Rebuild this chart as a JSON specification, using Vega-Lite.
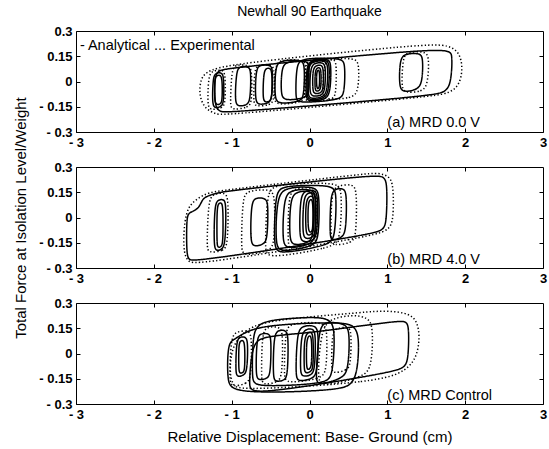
{
  "$schema": "https://vega.github.io/schema/vega-lite/v6.json",
  "background": "white",
  "padding": {"left": 12, "top": 4, "right": 4, "bottom": 4},
  "bounds": "flush",
  "spacing": 35,
  "config": {
    "font": "Liberation Sans",
    "view": {"stroke": "#000", "strokeWidth": 1},
    "axis": {
      "domain": false, "grid": false,
      "offset": -4, "tickSize": 4, "tickColor": "#000", "tickWidth": 1,
      "labelFlush": false, "labelFont": "Liberation Sans", "labelFontSize": 13,
      "labelFontWeight": "bold", "labelColor": "#000", "labelPadding": 4,
      "titleFont": "Liberation Sans", "titleFontSize": 15, "titleFontWeight": "normal", "titleColor": "#000"
    },
    "title": {"font": "Liberation Sans", "fontSize": 14, "fontWeight": "normal", "color": "#000"}
  },
  "datasets": {
    "na": [
      {"l":"a1","t":"Analytical","i":1,"x":-1.05,"y":-0.185},{"l":"a1","t":"Analytical","i":2,"x":1.6,"y":-0.085},{"l":"a1","t":"Analytical","i":3,"x":1.75,"y":-0.06},{"l":"a1","t":"Analytical","i":4,"x":1.82,"y":-0.01},{"l":"a1","t":"Analytical","i":5,"x":1.84,"y":0.17},{"l":"a1","t":"Analytical","i":6,"x":1.78,"y":0.205},{"l":"a1","t":"Analytical","i":7,"x":-1.05,"y":0.08},{"l":"a1","t":"Analytical","i":8,"x":-1.18,"y":0.065},{"l":"a1","t":"Analytical","i":9,"x":-1.22,"y":0.02},{"l":"a1","t":"Analytical","i":10,"x":-1.22,"y":-0.15},{"l":"a1","t":"Analytical","i":11,"x":-1.15,"y":-0.18},
      {"l":"a2","t":"Analytical","i":1,"x":1.2,"y":-0.065},{"l":"a2","t":"Analytical","i":2,"x":1.38,"y":-0.05},{"l":"a2","t":"Analytical","i":3,"x":1.45,"y":-0.01},{"l":"a2","t":"Analytical","i":4,"x":1.46,"y":0.14},{"l":"a2","t":"Analytical","i":5,"x":1.42,"y":0.17},{"l":"a2","t":"Analytical","i":6,"x":1.22,"y":0.165},{"l":"a2","t":"Analytical","i":7,"x":1.16,"y":0.13},{"l":"a2","t":"Analytical","i":8,"x":1.15,"y":-0.03},
      {"l":"a3a","t":"Analytical","i":1,"x":-0.02,"y":-0.12},{"l":"a3a","t":"Analytical","i":2,"x":0.2,"y":-0.11},{"l":"a3a","t":"Analytical","i":3,"x":0.27,"y":-0.07},{"l":"a3a","t":"Analytical","i":4,"x":0.28,"y":0.11},{"l":"a3a","t":"Analytical","i":5,"x":0.24,"y":0.135},{"l":"a3a","t":"Analytical","i":6,"x":0.02,"y":0.13},{"l":"a3a","t":"Analytical","i":7,"x":-0.04,"y":0.09},{"l":"a3a","t":"Analytical","i":8,"x":-0.05,"y":-0.09},
      {"l":"a3g","t":"Analytical","i":1,"x":-0.01,"y":-0.113},{"l":"a3g","t":"Analytical","i":2,"x":0.19,"y":-0.103},{"l":"a3g","t":"Analytical","i":3,"x":0.25,"y":-0.062},{"l":"a3g","t":"Analytical","i":4,"x":0.26,"y":0.105},{"l":"a3g","t":"Analytical","i":5,"x":0.22,"y":0.13},{"l":"a3g","t":"Analytical","i":6,"x":0.025,"y":0.125},{"l":"a3g","t":"Analytical","i":7,"x":-0.03,"y":0.085},{"l":"a3g","t":"Analytical","i":8,"x":-0.035,"y":-0.083},
      {"l":"a3b","t":"Analytical","i":1,"x":0.0,"y":-0.105},{"l":"a3b","t":"Analytical","i":2,"x":0.18,"y":-0.095},{"l":"a3b","t":"Analytical","i":3,"x":0.23,"y":-0.055},{"l":"a3b","t":"Analytical","i":4,"x":0.24,"y":0.1},{"l":"a3b","t":"Analytical","i":5,"x":0.2,"y":0.125},{"l":"a3b","t":"Analytical","i":6,"x":0.03,"y":0.12},{"l":"a3b","t":"Analytical","i":7,"x":-0.02,"y":0.08},{"l":"a3b","t":"Analytical","i":8,"x":-0.02,"y":-0.075},
      {"l":"a3c","t":"Analytical","i":1,"x":0.03,"y":-0.09},{"l":"a3c","t":"Analytical","i":2,"x":0.16,"y":-0.085},{"l":"a3c","t":"Analytical","i":3,"x":0.2,"y":-0.05},{"l":"a3c","t":"Analytical","i":4,"x":0.21,"y":0.09},{"l":"a3c","t":"Analytical","i":5,"x":0.17,"y":0.115},{"l":"a3c","t":"Analytical","i":6,"x":0.05,"y":0.11},{"l":"a3c","t":"Analytical","i":7,"x":0.01,"y":0.07},{"l":"a3c","t":"Analytical","i":8,"x":0.0,"y":-0.06},
      {"l":"a3d","t":"Analytical","i":1,"x":0.06,"y":-0.075},{"l":"a3d","t":"Analytical","i":2,"x":0.15,"y":-0.07},{"l":"a3d","t":"Analytical","i":3,"x":0.18,"y":-0.04},{"l":"a3d","t":"Analytical","i":4,"x":0.18,"y":0.08},{"l":"a3d","t":"Analytical","i":5,"x":0.15,"y":0.1},{"l":"a3d","t":"Analytical","i":6,"x":0.07,"y":0.095},{"l":"a3d","t":"Analytical","i":7,"x":0.04,"y":0.06},{"l":"a3d","t":"Analytical","i":8,"x":0.04,"y":-0.05},
      {"l":"a3e","t":"Analytical","i":1,"x":0.08,"y":-0.06},{"l":"a3e","t":"Analytical","i":2,"x":0.13,"y":-0.055},{"l":"a3e","t":"Analytical","i":3,"x":0.15,"y":-0.03},{"l":"a3e","t":"Analytical","i":4,"x":0.15,"y":0.065},{"l":"a3e","t":"Analytical","i":5,"x":0.13,"y":0.085},{"l":"a3e","t":"Analytical","i":6,"x":0.09,"y":0.08},{"l":"a3e","t":"Analytical","i":7,"x":0.07,"y":0.05},{"l":"a3e","t":"Analytical","i":8,"x":0.07,"y":-0.035},
      {"l":"a3f","t":"Analytical","i":1,"x":0.1,"y":-0.045},{"l":"a3f","t":"Analytical","i":2,"x":0.12,"y":-0.04},{"l":"a3f","t":"Analytical","i":3,"x":0.13,"y":-0.02},{"l":"a3f","t":"Analytical","i":4,"x":0.13,"y":0.05},{"l":"a3f","t":"Analytical","i":5,"x":0.12,"y":0.07},{"l":"a3f","t":"Analytical","i":6,"x":0.1,"y":0.065},{"l":"a3f","t":"Analytical","i":7,"x":0.09,"y":0.04},{"l":"a3f","t":"Analytical","i":8,"x":0.09,"y":-0.02},
      {"l":"a8","t":"Analytical","i":1,"x":-0.15,"y":-0.13},{"l":"a8","t":"Analytical","i":2,"x":0.38,"y":-0.11},{"l":"a8","t":"Analytical","i":3,"x":0.45,"y":-0.08},{"l":"a8","t":"Analytical","i":4,"x":0.46,"y":0.11},{"l":"a8","t":"Analytical","i":5,"x":0.41,"y":0.14},{"l":"a8","t":"Analytical","i":6,"x":-0.1,"y":0.14},{"l":"a8","t":"Analytical","i":7,"x":-0.17,"y":0.1},{"l":"a8","t":"Analytical","i":8,"x":-0.18,"y":-0.1},
      {"l":"a4","t":"Analytical","i":1,"x":-0.4,"y":-0.135},{"l":"a4","t":"Analytical","i":2,"x":-0.12,"y":-0.12},{"l":"a4","t":"Analytical","i":3,"x":-0.07,"y":-0.09},{"l":"a4","t":"Analytical","i":4,"x":-0.06,"y":0.1},{"l":"a4","t":"Analytical","i":5,"x":-0.1,"y":0.13},{"l":"a4","t":"Analytical","i":6,"x":-0.38,"y":0.125},{"l":"a4","t":"Analytical","i":7,"x":-0.44,"y":0.09},{"l":"a4","t":"Analytical","i":8,"x":-0.45,"y":-0.1},
      {"l":"a4b","t":"Analytical","i":1,"x":-0.32,"y":-0.115},{"l":"a4b","t":"Analytical","i":2,"x":-0.06,"y":-0.1},{"l":"a4b","t":"Analytical","i":3,"x":-0.01,"y":-0.07},{"l":"a4b","t":"Analytical","i":4,"x":0.0,"y":0.1},{"l":"a4b","t":"Analytical","i":5,"x":-0.04,"y":0.125},{"l":"a4b","t":"Analytical","i":6,"x":-0.3,"y":0.12},{"l":"a4b","t":"Analytical","i":7,"x":-0.36,"y":0.08},{"l":"a4b","t":"Analytical","i":8,"x":-0.37,"y":-0.08},
      {"l":"a5","t":"Analytical","i":1,"x":-0.66,"y":-0.14},{"l":"a5","t":"Analytical","i":2,"x":-0.52,"y":-0.13},{"l":"a5","t":"Analytical","i":3,"x":-0.48,"y":-0.1},{"l":"a5","t":"Analytical","i":4,"x":-0.47,"y":0.07},{"l":"a5","t":"Analytical","i":5,"x":-0.5,"y":0.1},{"l":"a5","t":"Analytical","i":6,"x":-0.64,"y":0.1},{"l":"a5","t":"Analytical","i":7,"x":-0.69,"y":0.07},{"l":"a5","t":"Analytical","i":8,"x":-0.7,"y":-0.11},
      {"l":"a5b","t":"Analytical","i":1,"x":-0.58,"y":-0.125},{"l":"a5b","t":"Analytical","i":2,"x":-0.51,"y":-0.12},{"l":"a5b","t":"Analytical","i":3,"x":-0.48,"y":-0.09},{"l":"a5b","t":"Analytical","i":4,"x":-0.48,"y":0.05},{"l":"a5b","t":"Analytical","i":5,"x":-0.5,"y":0.08},{"l":"a5b","t":"Analytical","i":6,"x":-0.56,"y":0.08},{"l":"a5b","t":"Analytical","i":7,"x":-0.59,"y":0.05},{"l":"a5b","t":"Analytical","i":8,"x":-0.6,"y":-0.09},
      {"l":"a6","t":"Analytical","i":1,"x":-0.92,"y":-0.15},{"l":"a6","t":"Analytical","i":2,"x":-0.8,"y":-0.14},{"l":"a6","t":"Analytical","i":3,"x":-0.76,"y":-0.11},{"l":"a6","t":"Analytical","i":4,"x":-0.75,"y":0.06},{"l":"a6","t":"Analytical","i":5,"x":-0.78,"y":0.09},{"l":"a6","t":"Analytical","i":6,"x":-0.9,"y":0.09},{"l":"a6","t":"Analytical","i":7,"x":-0.94,"y":0.06},{"l":"a6","t":"Analytical","i":8,"x":-0.96,"y":-0.12},
      {"l":"a7","t":"Analytical","i":1,"x":-1.22,"y":-0.16},{"l":"a7","t":"Analytical","i":2,"x":-1.13,"y":-0.15},{"l":"a7","t":"Analytical","i":3,"x":-1.1,"y":-0.12},{"l":"a7","t":"Analytical","i":4,"x":-1.1,"y":0.03},{"l":"a7","t":"Analytical","i":5,"x":-1.13,"y":0.055},{"l":"a7","t":"Analytical","i":6,"x":-1.21,"y":0.05},{"l":"a7","t":"Analytical","i":7,"x":-1.24,"y":0.02},{"l":"a7","t":"Analytical","i":8,"x":-1.25,"y":-0.13},
      {"l":"a7b","t":"Analytical","i":1,"x":-1.2,"y":-0.14},{"l":"a7b","t":"Analytical","i":2,"x":-1.14,"y":-0.135},{"l":"a7b","t":"Analytical","i":3,"x":-1.12,"y":-0.11},{"l":"a7b","t":"Analytical","i":4,"x":-1.12,"y":0.02},{"l":"a7b","t":"Analytical","i":5,"x":-1.15,"y":0.04},{"l":"a7b","t":"Analytical","i":6,"x":-1.2,"y":0.035},{"l":"a7b","t":"Analytical","i":7,"x":-1.22,"y":0.01},{"l":"a7b","t":"Analytical","i":8,"x":-1.22,"y":-0.11},
      {"l":"ae1","t":"Experimental","i":1,"x":-1.1,"y":-0.2},{"l":"ae1","t":"Experimental","i":2,"x":1.55,"y":-0.09},{"l":"ae1","t":"Experimental","i":3,"x":1.8,"y":-0.07},{"l":"ae1","t":"Experimental","i":4,"x":1.93,"y":-0.02},{"l":"ae1","t":"Experimental","i":5,"x":1.97,"y":0.08},{"l":"ae1","t":"Experimental","i":6,"x":1.93,"y":0.17},{"l":"ae1","t":"Experimental","i":7,"x":1.8,"y":0.215},{"l":"ae1","t":"Experimental","i":8,"x":1.5,"y":0.225},{"l":"ae1","t":"Experimental","i":9,"x":-0.9,"y":0.11},{"l":"ae1","t":"Experimental","i":10,"x":-1.3,"y":0.07},{"l":"ae1","t":"Experimental","i":11,"x":-1.4,"y":0.02},{"l":"ae1","t":"Experimental","i":12,"x":-1.42,"y":-0.08},{"l":"ae1","t":"Experimental","i":13,"x":-1.35,"y":-0.16},{"l":"ae1","t":"Experimental","i":14,"x":-1.2,"y":-0.195},
      {"l":"ae2","t":"Experimental","i":1,"x":1.22,"y":-0.07},{"l":"ae2","t":"Experimental","i":2,"x":1.45,"y":-0.06},{"l":"ae2","t":"Experimental","i":3,"x":1.52,"y":-0.02},{"l":"ae2","t":"Experimental","i":4,"x":1.54,"y":0.15},{"l":"ae2","t":"Experimental","i":5,"x":1.48,"y":0.18},{"l":"ae2","t":"Experimental","i":6,"x":1.25,"y":0.175},{"l":"ae2","t":"Experimental","i":7,"x":1.2,"y":0.14},{"l":"ae2","t":"Experimental","i":8,"x":1.18,"y":-0.03},
      {"l":"ae3","t":"Experimental","i":1,"x":0.2,"y":-0.11},{"l":"ae3","t":"Experimental","i":2,"x":0.55,"y":-0.1},{"l":"ae3","t":"Experimental","i":3,"x":0.63,"y":-0.06},{"l":"ae3","t":"Experimental","i":4,"x":0.64,"y":0.11},{"l":"ae3","t":"Experimental","i":5,"x":0.58,"y":0.14},{"l":"ae3","t":"Experimental","i":6,"x":0.25,"y":0.135},{"l":"ae3","t":"Experimental","i":7,"x":0.18,"y":0.1},{"l":"ae3","t":"Experimental","i":8,"x":0.17,"y":-0.08},
      {"l":"ae4","t":"Experimental","i":1,"x":-0.05,"y":-0.125},{"l":"ae4","t":"Experimental","i":2,"x":0.3,"y":-0.11},{"l":"ae4","t":"Experimental","i":3,"x":0.34,"y":-0.08},{"l":"ae4","t":"Experimental","i":4,"x":0.35,"y":0.11},{"l":"ae4","t":"Experimental","i":5,"x":0.31,"y":0.14},{"l":"ae4","t":"Experimental","i":6,"x":0.0,"y":0.135},{"l":"ae4","t":"Experimental","i":7,"x":-0.06,"y":0.1},{"l":"ae4","t":"Experimental","i":8,"x":-0.07,"y":-0.09},
      {"l":"ae5","t":"Experimental","i":1,"x":-0.42,"y":-0.14},{"l":"ae5","t":"Experimental","i":2,"x":-0.1,"y":-0.125},{"l":"ae5","t":"Experimental","i":3,"x":-0.05,"y":-0.09},{"l":"ae5","t":"Experimental","i":4,"x":-0.04,"y":0.1},{"l":"ae5","t":"Experimental","i":5,"x":-0.08,"y":0.13},{"l":"ae5","t":"Experimental","i":6,"x":-0.38,"y":0.13},{"l":"ae5","t":"Experimental","i":7,"x":-0.44,"y":0.1},{"l":"ae5","t":"Experimental","i":8,"x":-0.46,"y":-0.11},
      {"l":"ae6","t":"Experimental","i":1,"x":-0.7,"y":-0.15},{"l":"ae6","t":"Experimental","i":2,"x":-0.5,"y":-0.14},{"l":"ae6","t":"Experimental","i":3,"x":-0.45,"y":-0.11},{"l":"ae6","t":"Experimental","i":4,"x":-0.45,"y":0.07},{"l":"ae6","t":"Experimental","i":5,"x":-0.48,"y":0.1},{"l":"ae6","t":"Experimental","i":6,"x":-0.66,"y":0.1},{"l":"ae6","t":"Experimental","i":7,"x":-0.71,"y":0.07},{"l":"ae6","t":"Experimental","i":8,"x":-0.72,"y":-0.12},
      {"l":"ae7","t":"Experimental","i":1,"x":-1.0,"y":-0.17},{"l":"ae7","t":"Experimental","i":2,"x":-0.78,"y":-0.155},{"l":"ae7","t":"Experimental","i":3,"x":-0.74,"y":-0.12},{"l":"ae7","t":"Experimental","i":4,"x":-0.74,"y":0.07},{"l":"ae7","t":"Experimental","i":5,"x":-0.78,"y":0.1},{"l":"ae7","t":"Experimental","i":6,"x":-0.95,"y":0.1},{"l":"ae7","t":"Experimental","i":7,"x":-1.0,"y":0.07},{"l":"ae7","t":"Experimental","i":8,"x":-1.02,"y":-0.14},
      {"l":"ae8","t":"Experimental","i":1,"x":-1.28,"y":-0.17},{"l":"ae8","t":"Experimental","i":2,"x":-1.12,"y":-0.16},{"l":"ae8","t":"Experimental","i":3,"x":-1.08,"y":-0.13},{"l":"ae8","t":"Experimental","i":4,"x":-1.08,"y":0.05},{"l":"ae8","t":"Experimental","i":5,"x":-1.12,"y":0.07},{"l":"ae8","t":"Experimental","i":6,"x":-1.25,"y":0.065},{"l":"ae8","t":"Experimental","i":7,"x":-1.3,"y":0.03},{"l":"ae8","t":"Experimental","i":8,"x":-1.31,"y":-0.14}
    ],
    "nb": [
      {"l":"b1","t":"Analytical","i":1,"x":-1.48,"y":-0.263},{"l":"b1","t":"Analytical","i":2,"x":0.82,"y":-0.1},{"l":"b1","t":"Analytical","i":3,"x":0.95,"y":-0.07},{"l":"b1","t":"Analytical","i":4,"x":0.99,"y":-0.03},{"l":"b1","t":"Analytical","i":5,"x":1.0,"y":0.2},{"l":"b1","t":"Analytical","i":6,"x":0.96,"y":0.24},{"l":"b1","t":"Analytical","i":7,"x":0.86,"y":0.256},{"l":"b1","t":"Analytical","i":8,"x":-1.0,"y":0.16},{"l":"b1","t":"Analytical","i":9,"x":-1.16,"y":0.149},{"l":"b1","t":"Analytical","i":10,"x":-1.3,"y":0.13},{"l":"b1","t":"Analytical","i":11,"x":-1.38,"y":0.11},{"l":"b1","t":"Analytical","i":12,"x":-1.42,"y":0.05},{"l":"b1","t":"Analytical","i":13,"x":-1.55,"y":0.03},{"l":"b1","t":"Analytical","i":14,"x":-1.58,"y":0.0},{"l":"b1","t":"Analytical","i":15,"x":-1.58,"y":-0.22},{"l":"b1","t":"Analytical","i":16,"x":-1.55,"y":-0.25},
      {"l":"b2","t":"Analytical","i":1,"x":-1.2,"y":-0.2},{"l":"b2","t":"Analytical","i":2,"x":-1.12,"y":-0.19},{"l":"b2","t":"Analytical","i":3,"x":-1.08,"y":-0.15},{"l":"b2","t":"Analytical","i":4,"x":-1.07,"y":0.08},{"l":"b2","t":"Analytical","i":5,"x":-1.1,"y":0.11},{"l":"b2","t":"Analytical","i":6,"x":-1.18,"y":0.105},{"l":"b2","t":"Analytical","i":7,"x":-1.22,"y":0.07},{"l":"b2","t":"Analytical","i":8,"x":-1.23,"y":-0.17},
      {"l":"b2b","t":"Analytical","i":1,"x":-1.18,"y":-0.18},{"l":"b2b","t":"Analytical","i":2,"x":-1.13,"y":-0.175},{"l":"b2b","t":"Analytical","i":3,"x":-1.11,"y":-0.14},{"l":"b2b","t":"Analytical","i":4,"x":-1.11,"y":0.06},{"l":"b2b","t":"Analytical","i":5,"x":-1.13,"y":0.09},{"l":"b2b","t":"Analytical","i":6,"x":-1.17,"y":0.085},{"l":"b2b","t":"Analytical","i":7,"x":-1.19,"y":0.05},{"l":"b2b","t":"Analytical","i":8,"x":-1.19,"y":-0.15},
      {"l":"b3","t":"Analytical","i":1,"x":-0.72,"y":-0.175},{"l":"b3","t":"Analytical","i":2,"x":-0.58,"y":-0.16},{"l":"b3","t":"Analytical","i":3,"x":-0.54,"y":-0.12},{"l":"b3","t":"Analytical","i":4,"x":-0.53,"y":0.08},{"l":"b3","t":"Analytical","i":5,"x":-0.56,"y":0.115},{"l":"b3","t":"Analytical","i":6,"x":-0.7,"y":0.12},{"l":"b3","t":"Analytical","i":7,"x":-0.75,"y":0.08},{"l":"b3","t":"Analytical","i":8,"x":-0.76,"y":-0.14},
      {"l":"b7","t":"Analytical","i":1,"x":-0.4,"y":-0.22},{"l":"b7","t":"Analytical","i":2,"x":0.25,"y":-0.165},{"l":"b7","t":"Analytical","i":3,"x":0.33,"y":-0.12},{"l":"b7","t":"Analytical","i":4,"x":0.35,"y":0.15},{"l":"b7","t":"Analytical","i":5,"x":0.3,"y":0.195},{"l":"b7","t":"Analytical","i":6,"x":-0.35,"y":0.19},{"l":"b7","t":"Analytical","i":7,"x":-0.44,"y":0.15},{"l":"b7","t":"Analytical","i":8,"x":-0.46,"y":-0.18},
      {"l":"b4a","t":"Analytical","i":1,"x":-0.38,"y":-0.21},{"l":"b4a","t":"Analytical","i":2,"x":0.05,"y":-0.17},{"l":"b4a","t":"Analytical","i":3,"x":0.12,"y":-0.13},{"l":"b4a","t":"Analytical","i":4,"x":0.13,"y":0.14},{"l":"b4a","t":"Analytical","i":5,"x":0.08,"y":0.185},{"l":"b4a","t":"Analytical","i":6,"x":-0.3,"y":0.18},{"l":"b4a","t":"Analytical","i":7,"x":-0.42,"y":0.13},{"l":"b4a","t":"Analytical","i":8,"x":-0.44,"y":-0.16},
      {"l":"b4b","t":"Analytical","i":1,"x":-0.3,"y":-0.19},{"l":"b4b","t":"Analytical","i":2,"x":0.02,"y":-0.16},{"l":"b4b","t":"Analytical","i":3,"x":0.08,"y":-0.12},{"l":"b4b","t":"Analytical","i":4,"x":0.09,"y":0.13},{"l":"b4b","t":"Analytical","i":5,"x":0.04,"y":0.17},{"l":"b4b","t":"Analytical","i":6,"x":-0.24,"y":0.165},{"l":"b4b","t":"Analytical","i":7,"x":-0.33,"y":0.12},{"l":"b4b","t":"Analytical","i":8,"x":-0.35,"y":-0.14},
      {"l":"b4c","t":"Analytical","i":1,"x":-0.22,"y":-0.17},{"l":"b4c","t":"Analytical","i":2,"x":0.0,"y":-0.15},{"l":"b4c","t":"Analytical","i":3,"x":0.05,"y":-0.11},{"l":"b4c","t":"Analytical","i":4,"x":0.06,"y":0.12},{"l":"b4c","t":"Analytical","i":5,"x":0.02,"y":0.16},{"l":"b4c","t":"Analytical","i":6,"x":-0.17,"y":0.155},{"l":"b4c","t":"Analytical","i":7,"x":-0.25,"y":0.11},{"l":"b4c","t":"Analytical","i":8,"x":-0.26,"y":-0.12},
      {"l":"b5a","t":"Analytical","i":1,"x":-0.1,"y":-0.15},{"l":"b5a","t":"Analytical","i":2,"x":0.05,"y":-0.14},{"l":"b5a","t":"Analytical","i":3,"x":0.1,"y":-0.1},{"l":"b5a","t":"Analytical","i":4,"x":0.11,"y":0.13},{"l":"b5a","t":"Analytical","i":5,"x":0.07,"y":0.165},{"l":"b5a","t":"Analytical","i":6,"x":-0.06,"y":0.16},{"l":"b5a","t":"Analytical","i":7,"x":-0.12,"y":0.12},{"l":"b5a","t":"Analytical","i":8,"x":-0.13,"y":-0.1},
      {"l":"b5b","t":"Analytical","i":1,"x":-0.06,"y":-0.13},{"l":"b5b","t":"Analytical","i":2,"x":0.04,"y":-0.12},{"l":"b5b","t":"Analytical","i":3,"x":0.08,"y":-0.09},{"l":"b5b","t":"Analytical","i":4,"x":0.08,"y":0.12},{"l":"b5b","t":"Analytical","i":5,"x":0.05,"y":0.15},{"l":"b5b","t":"Analytical","i":6,"x":-0.03,"y":0.145},{"l":"b5b","t":"Analytical","i":7,"x":-0.08,"y":0.11},{"l":"b5b","t":"Analytical","i":8,"x":-0.09,"y":-0.09},
      {"l":"b5c","t":"Analytical","i":1,"x":-0.03,"y":-0.11},{"l":"b5c","t":"Analytical","i":2,"x":0.03,"y":-0.1},{"l":"b5c","t":"Analytical","i":3,"x":0.06,"y":-0.07},{"l":"b5c","t":"Analytical","i":4,"x":0.06,"y":0.1},{"l":"b5c","t":"Analytical","i":5,"x":0.04,"y":0.13},{"l":"b5c","t":"Analytical","i":6,"x":-0.01,"y":0.125},{"l":"b5c","t":"Analytical","i":7,"x":-0.05,"y":0.09},{"l":"b5c","t":"Analytical","i":8,"x":-0.05,"y":-0.07},
      {"l":"b5d","t":"Analytical","i":1,"x":0.0,"y":-0.09},{"l":"b5d","t":"Analytical","i":2,"x":0.03,"y":-0.085},{"l":"b5d","t":"Analytical","i":3,"x":0.045,"y":-0.06},{"l":"b5d","t":"Analytical","i":4,"x":0.045,"y":0.08},{"l":"b5d","t":"Analytical","i":5,"x":0.03,"y":0.11},{"l":"b5d","t":"Analytical","i":6,"x":0.0,"y":0.105},{"l":"b5d","t":"Analytical","i":7,"x":-0.02,"y":0.07},{"l":"b5d","t":"Analytical","i":8,"x":-0.02,"y":-0.06},
      {"l":"b6","t":"Analytical","i":1,"x":0.28,"y":-0.14},{"l":"b6","t":"Analytical","i":2,"x":0.42,"y":-0.12},{"l":"b6","t":"Analytical","i":3,"x":0.47,"y":-0.08},{"l":"b6","t":"Analytical","i":4,"x":0.48,"y":0.14},{"l":"b6","t":"Analytical","i":5,"x":0.44,"y":0.175},{"l":"b6","t":"Analytical","i":6,"x":0.32,"y":0.17},{"l":"b6","t":"Analytical","i":7,"x":0.27,"y":0.13},{"l":"b6","t":"Analytical","i":8,"x":0.26,"y":-0.1},
      {"l":"be1","t":"Experimental","i":1,"x":-1.45,"y":-0.28},{"l":"be1","t":"Experimental","i":2,"x":0.85,"y":-0.11},{"l":"be1","t":"Experimental","i":3,"x":1.02,"y":-0.07},{"l":"be1","t":"Experimental","i":4,"x":1.08,"y":-0.02},{"l":"be1","t":"Experimental","i":5,"x":1.08,"y":0.2},{"l":"be1","t":"Experimental","i":6,"x":1.02,"y":0.245},{"l":"be1","t":"Experimental","i":7,"x":0.9,"y":0.265},{"l":"be1","t":"Experimental","i":8,"x":0.7,"y":0.26},{"l":"be1","t":"Experimental","i":9,"x":-1.05,"y":0.165},{"l":"be1","t":"Experimental","i":10,"x":-1.3,"y":0.15},{"l":"be1","t":"Experimental","i":11,"x":-1.45,"y":0.11},{"l":"be1","t":"Experimental","i":12,"x":-1.6,"y":0.05},{"l":"be1","t":"Experimental","i":13,"x":-1.63,"y":-0.2},{"l":"be1","t":"Experimental","i":14,"x":-1.56,"y":-0.265},
      {"l":"be2","t":"Experimental","i":1,"x":-1.3,"y":-0.21},{"l":"be2","t":"Experimental","i":2,"x":-1.1,"y":-0.2},{"l":"be2","t":"Experimental","i":3,"x":-1.05,"y":-0.16},{"l":"be2","t":"Experimental","i":4,"x":-1.04,"y":0.11},{"l":"be2","t":"Experimental","i":5,"x":-1.08,"y":0.15},{"l":"be2","t":"Experimental","i":6,"x":-1.24,"y":0.14},{"l":"be2","t":"Experimental","i":7,"x":-1.3,"y":0.1},{"l":"be2","t":"Experimental","i":8,"x":-1.32,"y":-0.18},
      {"l":"be3","t":"Experimental","i":1,"x":-0.85,"y":-0.23},{"l":"be3","t":"Experimental","i":2,"x":-0.5,"y":-0.2},{"l":"be3","t":"Experimental","i":3,"x":-0.45,"y":-0.15},{"l":"be3","t":"Experimental","i":4,"x":-0.44,"y":0.13},{"l":"be3","t":"Experimental","i":5,"x":-0.5,"y":0.17},{"l":"be3","t":"Experimental","i":6,"x":-0.8,"y":0.16},{"l":"be3","t":"Experimental","i":7,"x":-0.86,"y":0.12},{"l":"be3","t":"Experimental","i":8,"x":-0.88,"y":-0.19},
      {"l":"be4","t":"Experimental","i":1,"x":-0.55,"y":-0.245},{"l":"be4","t":"Experimental","i":2,"x":0.3,"y":-0.18},{"l":"be4","t":"Experimental","i":3,"x":0.4,"y":-0.13},{"l":"be4","t":"Experimental","i":4,"x":0.42,"y":0.17},{"l":"be4","t":"Experimental","i":5,"x":0.35,"y":0.21},{"l":"be4","t":"Experimental","i":6,"x":-0.45,"y":0.2},{"l":"be4","t":"Experimental","i":7,"x":-0.55,"y":0.15},{"l":"be4","t":"Experimental","i":8,"x":-0.57,"y":-0.2},
      {"l":"be5","t":"Experimental","i":1,"x":-0.25,"y":-0.2},{"l":"be5","t":"Experimental","i":2,"x":0.05,"y":-0.17},{"l":"be5","t":"Experimental","i":3,"x":0.1,"y":-0.12},{"l":"be5","t":"Experimental","i":4,"x":0.1,"y":0.15},{"l":"be5","t":"Experimental","i":5,"x":0.05,"y":0.18},{"l":"be5","t":"Experimental","i":6,"x":-0.2,"y":0.175},{"l":"be5","t":"Experimental","i":7,"x":-0.27,"y":0.13},{"l":"be5","t":"Experimental","i":8,"x":-0.28,"y":-0.16},
      {"l":"be6","t":"Experimental","i":1,"x":0.3,"y":-0.17},{"l":"be6","t":"Experimental","i":2,"x":0.55,"y":-0.15},{"l":"be6","t":"Experimental","i":3,"x":0.6,"y":-0.11},{"l":"be6","t":"Experimental","i":4,"x":0.61,"y":0.16},{"l":"be6","t":"Experimental","i":5,"x":0.56,"y":0.2},{"l":"be6","t":"Experimental","i":6,"x":0.35,"y":0.19},{"l":"be6","t":"Experimental","i":7,"x":0.28,"y":0.15},{"l":"be6","t":"Experimental","i":8,"x":0.27,"y":-0.13}
    ],
    "nc": [
      {"l":"c1","t":"Analytical","i":1,"x":-0.75,"y":-0.25},{"l":"c1","t":"Analytical","i":2,"x":1.1,"y":-0.11},{"l":"c1","t":"Analytical","i":3,"x":1.22,"y":-0.08},{"l":"c1","t":"Analytical","i":4,"x":1.27,"y":-0.04},{"l":"c1","t":"Analytical","i":5,"x":1.28,"y":0.16},{"l":"c1","t":"Analytical","i":6,"x":1.24,"y":0.19},{"l":"c1","t":"Analytical","i":7,"x":1.15,"y":0.195},{"l":"c1","t":"Analytical","i":8,"x":0.2,"y":0.135},{"l":"c1","t":"Analytical","i":9,"x":-0.1,"y":0.12},{"l":"c1","t":"Analytical","i":10,"x":-0.6,"y":0.1},{"l":"c1","t":"Analytical","i":11,"x":-0.74,"y":0.06},{"l":"c1","t":"Analytical","i":12,"x":-0.78,"y":-0.2},
      {"l":"c2","t":"Analytical","i":1,"x":-0.98,"y":-0.24},{"l":"c2","t":"Analytical","i":2,"x":0.4,"y":-0.22},{"l":"c2","t":"Analytical","i":3,"x":0.55,"y":-0.18},{"l":"c2","t":"Analytical","i":4,"x":0.62,"y":-0.1},{"l":"c2","t":"Analytical","i":5,"x":0.64,"y":0.1},{"l":"c2","t":"Analytical","i":6,"x":0.58,"y":0.16},{"l":"c2","t":"Analytical","i":7,"x":0.45,"y":0.19},{"l":"c2","t":"Analytical","i":8,"x":-0.6,"y":0.17},{"l":"c2","t":"Analytical","i":9,"x":-0.85,"y":0.12},{"l":"c2","t":"Analytical","i":10,"x":-0.98,"y":0.08},{"l":"c2","t":"Analytical","i":11,"x":-1.05,"y":0.06},{"l":"c2","t":"Analytical","i":12,"x":-1.06,"y":-0.17},
      {"l":"c3","t":"Analytical","i":1,"x":-0.93,"y":-0.14},{"l":"c3","t":"Analytical","i":2,"x":-0.84,"y":-0.13},{"l":"c3","t":"Analytical","i":3,"x":-0.8,"y":-0.1},{"l":"c3","t":"Analytical","i":4,"x":-0.79,"y":0.07},{"l":"c3","t":"Analytical","i":5,"x":-0.82,"y":0.1},{"l":"c3","t":"Analytical","i":6,"x":-0.9,"y":0.1},{"l":"c3","t":"Analytical","i":7,"x":-0.94,"y":0.07},{"l":"c3","t":"Analytical","i":8,"x":-0.95,"y":-0.11},
      {"l":"c3b","t":"Analytical","i":1,"x":-0.9,"y":-0.12},{"l":"c3b","t":"Analytical","i":2,"x":-0.85,"y":-0.115},{"l":"c3b","t":"Analytical","i":3,"x":-0.83,"y":-0.09},{"l":"c3b","t":"Analytical","i":4,"x":-0.83,"y":0.05},{"l":"c3b","t":"Analytical","i":5,"x":-0.85,"y":0.08},{"l":"c3b","t":"Analytical","i":6,"x":-0.89,"y":0.075},{"l":"c3b","t":"Analytical","i":7,"x":-0.91,"y":0.05},{"l":"c3b","t":"Analytical","i":8,"x":-0.91,"y":-0.09},
      {"l":"c4","t":"Analytical","i":1,"x":-0.66,"y":-0.16},{"l":"c4","t":"Analytical","i":2,"x":-0.54,"y":-0.15},{"l":"c4","t":"Analytical","i":3,"x":-0.5,"y":-0.12},{"l":"c4","t":"Analytical","i":4,"x":-0.49,"y":0.09},{"l":"c4","t":"Analytical","i":5,"x":-0.52,"y":0.12},{"l":"c4","t":"Analytical","i":6,"x":-0.63,"y":0.12},{"l":"c4","t":"Analytical","i":7,"x":-0.68,"y":0.09},{"l":"c4","t":"Analytical","i":8,"x":-0.69,"y":-0.13},
      {"l":"c5","t":"Analytical","i":1,"x":-0.44,"y":-0.17},{"l":"c5","t":"Analytical","i":2,"x":-0.32,"y":-0.16},{"l":"c5","t":"Analytical","i":3,"x":-0.28,"y":-0.13},{"l":"c5","t":"Analytical","i":4,"x":-0.27,"y":0.1},{"l":"c5","t":"Analytical","i":5,"x":-0.3,"y":0.14},{"l":"c5","t":"Analytical","i":6,"x":-0.41,"y":0.14},{"l":"c5","t":"Analytical","i":7,"x":-0.46,"y":0.1},{"l":"c5","t":"Analytical","i":8,"x":-0.47,"y":-0.14},
      {"l":"c7","t":"Analytical","i":1,"x":-0.7,"y":-0.2},{"l":"c7","t":"Analytical","i":2,"x":0.2,"y":-0.18},{"l":"c7","t":"Analytical","i":3,"x":0.3,"y":-0.14},{"l":"c7","t":"Analytical","i":4,"x":0.33,"y":0.14},{"l":"c7","t":"Analytical","i":5,"x":0.27,"y":0.2},{"l":"c7","t":"Analytical","i":6,"x":0.1,"y":0.22},{"l":"c7","t":"Analytical","i":7,"x":-0.55,"y":0.2},{"l":"c7","t":"Analytical","i":8,"x":-0.68,"y":0.16},{"l":"c7","t":"Analytical","i":9,"x":-0.73,"y":0.1},{"l":"c7","t":"Analytical","i":10,"x":-0.74,"y":-0.16},
      {"l":"c8","t":"Analytical","i":1,"x":0.1,"y":-0.19},{"l":"c8","t":"Analytical","i":2,"x":0.42,"y":-0.15},{"l":"c8","t":"Analytical","i":3,"x":0.5,"y":-0.1},{"l":"c8","t":"Analytical","i":4,"x":0.52,"y":0.13},{"l":"c8","t":"Analytical","i":5,"x":0.46,"y":0.18},{"l":"c8","t":"Analytical","i":6,"x":0.2,"y":0.19},{"l":"c8","t":"Analytical","i":7,"x":0.12,"y":0.15},{"l":"c8","t":"Analytical","i":8,"x":0.08,"y":-0.15},
      {"l":"c6a","t":"Analytical","i":1,"x":-0.15,"y":-0.17},{"l":"c6a","t":"Analytical","i":2,"x":0.05,"y":-0.15},{"l":"c6a","t":"Analytical","i":3,"x":0.1,"y":-0.11},{"l":"c6a","t":"Analytical","i":4,"x":0.12,"y":0.12},{"l":"c6a","t":"Analytical","i":5,"x":0.08,"y":0.17},{"l":"c6a","t":"Analytical","i":6,"x":-0.1,"y":0.165},{"l":"c6a","t":"Analytical","i":7,"x":-0.16,"y":0.12},{"l":"c6a","t":"Analytical","i":8,"x":-0.18,"y":-0.13},
      {"l":"c6b","t":"Analytical","i":1,"x":-0.1,"y":-0.14},{"l":"c6b","t":"Analytical","i":2,"x":0.03,"y":-0.13},{"l":"c6b","t":"Analytical","i":3,"x":0.07,"y":-0.09},{"l":"c6b","t":"Analytical","i":4,"x":0.08,"y":0.11},{"l":"c6b","t":"Analytical","i":5,"x":0.05,"y":0.15},{"l":"c6b","t":"Analytical","i":6,"x":-0.06,"y":0.145},{"l":"c6b","t":"Analytical","i":7,"x":-0.11,"y":0.1},{"l":"c6b","t":"Analytical","i":8,"x":-0.12,"y":-0.1},
      {"l":"c6c","t":"Analytical","i":1,"x":-0.06,"y":-0.12},{"l":"c6c","t":"Analytical","i":2,"x":0.02,"y":-0.11},{"l":"c6c","t":"Analytical","i":3,"x":0.05,"y":-0.08},{"l":"c6c","t":"Analytical","i":4,"x":0.05,"y":0.09},{"l":"c6c","t":"Analytical","i":5,"x":0.03,"y":0.13},{"l":"c6c","t":"Analytical","i":6,"x":-0.03,"y":0.125},{"l":"c6c","t":"Analytical","i":7,"x":-0.07,"y":0.08},{"l":"c6c","t":"Analytical","i":8,"x":-0.07,"y":-0.08},
      {"l":"c6d","t":"Analytical","i":1,"x":-0.03,"y":-0.1},{"l":"c6d","t":"Analytical","i":2,"x":0.01,"y":-0.09},{"l":"c6d","t":"Analytical","i":3,"x":0.03,"y":-0.06},{"l":"c6d","t":"Analytical","i":4,"x":0.03,"y":0.08},{"l":"c6d","t":"Analytical","i":5,"x":0.01,"y":0.11},{"l":"c6d","t":"Analytical","i":6,"x":-0.02,"y":0.1},{"l":"c6d","t":"Analytical","i":7,"x":-0.04,"y":0.06},{"l":"c6d","t":"Analytical","i":8,"x":-0.04,"y":-0.06},
      {"l":"ce1","t":"Experimental","i":1,"x":-0.9,"y":-0.22},{"l":"ce1","t":"Experimental","i":2,"x":0.9,"y":-0.17},{"l":"ce1","t":"Experimental","i":3,"x":1.25,"y":-0.1},{"l":"ce1","t":"Experimental","i":4,"x":1.38,"y":-0.02},{"l":"ce1","t":"Experimental","i":5,"x":1.42,"y":0.1},{"l":"ce1","t":"Experimental","i":6,"x":1.38,"y":0.2},{"l":"ce1","t":"Experimental","i":7,"x":1.25,"y":0.245},{"l":"ce1","t":"Experimental","i":8,"x":0.9,"y":0.255},{"l":"ce1","t":"Experimental","i":9,"x":0.6,"y":0.24},{"l":"ce1","t":"Experimental","i":10,"x":-0.5,"y":0.2},{"l":"ce1","t":"Experimental","i":11,"x":-0.8,"y":0.15},{"l":"ce1","t":"Experimental","i":12,"x":-1.0,"y":0.05},{"l":"ce1","t":"Experimental","i":13,"x":-1.03,"y":-0.12},{"l":"ce1","t":"Experimental","i":14,"x":-0.98,"y":-0.19},
      {"l":"ce2","t":"Experimental","i":1,"x":0.15,"y":-0.2},{"l":"ce2","t":"Experimental","i":2,"x":0.7,"y":-0.14},{"l":"ce2","t":"Experimental","i":3,"x":0.8,"y":-0.08},{"l":"ce2","t":"Experimental","i":4,"x":0.82,"y":0.16},{"l":"ce2","t":"Experimental","i":5,"x":0.75,"y":0.215},{"l":"ce2","t":"Experimental","i":6,"x":0.55,"y":0.23},{"l":"ce2","t":"Experimental","i":7,"x":0.3,"y":0.21},{"l":"ce2","t":"Experimental","i":8,"x":0.15,"y":0.16},{"l":"ce2","t":"Experimental","i":9,"x":0.1,"y":-0.15},
      {"l":"ce3","t":"Experimental","i":1,"x":-1.0,"y":-0.2},{"l":"ce3","t":"Experimental","i":2,"x":-0.8,"y":-0.18},{"l":"ce3","t":"Experimental","i":3,"x":-0.75,"y":-0.14},{"l":"ce3","t":"Experimental","i":4,"x":-0.74,"y":0.1},{"l":"ce3","t":"Experimental","i":5,"x":-0.78,"y":0.14},{"l":"ce3","t":"Experimental","i":6,"x":-0.95,"y":0.13},{"l":"ce3","t":"Experimental","i":7,"x":-1.01,"y":0.09},{"l":"ce3","t":"Experimental","i":8,"x":-1.03,"y":-0.16},
      {"l":"ce4","t":"Experimental","i":1,"x":-0.6,"y":-0.19},{"l":"ce4","t":"Experimental","i":2,"x":-0.4,"y":-0.17},{"l":"ce4","t":"Experimental","i":3,"x":-0.35,"y":-0.13},{"l":"ce4","t":"Experimental","i":4,"x":-0.34,"y":0.12},{"l":"ce4","t":"Experimental","i":5,"x":-0.38,"y":0.16},{"l":"ce4","t":"Experimental","i":6,"x":-0.55,"y":0.16},{"l":"ce4","t":"Experimental","i":7,"x":-0.61,"y":0.12},{"l":"ce4","t":"Experimental","i":8,"x":-0.62,"y":-0.15},
      {"l":"ce5","t":"Experimental","i":1,"x":-0.3,"y":-0.18},{"l":"ce5","t":"Experimental","i":2,"x":0.15,"y":-0.15},{"l":"ce5","t":"Experimental","i":3,"x":0.22,"y":-0.11},{"l":"ce5","t":"Experimental","i":4,"x":0.23,"y":0.14},{"l":"ce5","t":"Experimental","i":5,"x":0.18,"y":0.19},{"l":"ce5","t":"Experimental","i":6,"x":-0.25,"y":0.18},{"l":"ce5","t":"Experimental","i":7,"x":-0.31,"y":0.14},{"l":"ce5","t":"Experimental","i":8,"x":-0.33,"y":-0.14},
      {"l":"ce6","t":"Experimental","i":1,"x":0.3,"y":-0.12},{"l":"ce6","t":"Experimental","i":2,"x":0.48,"y":-0.1},{"l":"ce6","t":"Experimental","i":3,"x":0.53,"y":-0.07},{"l":"ce6","t":"Experimental","i":4,"x":0.54,"y":0.13},{"l":"ce6","t":"Experimental","i":5,"x":0.5,"y":0.16},{"l":"ce6","t":"Experimental","i":6,"x":0.34,"y":0.15},{"l":"ce6","t":"Experimental","i":7,"x":0.29,"y":0.12},{"l":"ce6","t":"Experimental","i":8,"x":0.28,"y":-0.09}
    ]
  },
  "vconcat": [
    {
      "width": 467, "height": 101,
      "title": {"text": "Newhall 90 Earthquake", "frame": "group", "offset": 6},
      "layer": [
        {
          "data": {"name": "na"},
          "mark": {"type": "line", "interpolate": "basis-closed", "clip": true, "color": "#000", "strokeWidth": 1.5},
          "encoding": {
            "x": {"field": "x", "type": "quantitative", "scale": {"domain": [-3, 3], "nice": false}, "axis": {"orient": "bottom", "title": null, "values": [-3, -2, -1, 0, 1, 2, 3], "labelExpr": "datum.value < 0 ? '- ' + (-datum.value) : '' + datum.value"}},
            "y": {"field": "y", "type": "quantitative", "scale": {"domain": [-0.3, 0.3], "nice": false}, "axis": {"orient": "left", "title": null, "values": [-0.3, -0.15, 0, 0.15, 0.3], "labelExpr": "datum.value < 0 ? '- ' + (-datum.value) : '' + datum.value"}},
            "detail": {"field": "l"},
            "order": {"field": "i", "type": "quantitative"},
            "strokeDash": {"field": "t", "type": "nominal", "scale": {"domain": ["Analytical", "Experimental"], "range": [[1, 0], [1.3, 2.2]]}, "legend": null}
          }
        },
        {
          "data": {"values": [{}]},
          "mark": {"type": "text", "align": "left", "baseline": "alphabetic", "fontSize": 14.5, "color": "#000"},
          "encoding": {
            "x": {"datum": 1.0, "type": "quantitative", "axis": {"orient": "top", "title": null, "labels": false, "values": [-2, -1, 0, 1, 2]}},
            "y": {"datum": -0.27, "type": "quantitative", "axis": {"orient": "right", "title": null, "labels": false, "values": [-0.15, 0, 0.15]}},
            "text": {"value": "(a) MRD 0.0 V"}
          }
        },
        {
          "data": {"values": [{}]},
          "mark": {"type": "text", "align": "left", "baseline": "alphabetic", "fontSize": 14.5, "color": "#000"},
          "encoding": {
            "x": {"datum": -2.95, "type": "quantitative", "axis": null},
            "y": {"datum": 0.19, "type": "quantitative", "axis": null},
            "text": {"value": "-  Analytical ... Experimental"}
          }
        }
      ],
      "resolve": {"axis": {"x": "independent", "y": "independent"}}
    },
    {
      "width": 467, "height": 101,
      "layer": [
        {
          "data": {"name": "nb"},
          "mark": {"type": "line", "interpolate": "basis-closed", "clip": true, "color": "#000", "strokeWidth": 1.5},
          "encoding": {
            "x": {"field": "x", "type": "quantitative", "scale": {"domain": [-3, 3], "nice": false}, "axis": {"orient": "bottom", "title": null, "values": [-3, -2, -1, 0, 1, 2, 3], "labelExpr": "datum.value < 0 ? '- ' + (-datum.value) : '' + datum.value"}},
            "y": {"field": "y", "type": "quantitative", "scale": {"domain": [-0.3, 0.3], "nice": false}, "axis": {"orient": "left", "title": "Total Force at Isolation Level/Weight", "titlePadding": 10.5, "values": [-0.3, -0.15, 0, 0.15, 0.3], "labelExpr": "datum.value < 0 ? '- ' + (-datum.value) : '' + datum.value"}},
            "detail": {"field": "l"},
            "order": {"field": "i", "type": "quantitative"},
            "strokeDash": {"field": "t", "type": "nominal", "scale": {"domain": ["Analytical", "Experimental"], "range": [[1, 0], [1.3, 2.2]]}, "legend": null}
          }
        },
        {
          "data": {"values": [{}]},
          "mark": {"type": "text", "align": "left", "baseline": "alphabetic", "fontSize": 14.5, "color": "#000"},
          "encoding": {
            "x": {"datum": 1.0, "type": "quantitative", "axis": {"orient": "top", "title": null, "labels": false, "values": [-2, -1, 0, 1, 2]}},
            "y": {"datum": -0.275, "type": "quantitative", "axis": {"orient": "right", "title": null, "labels": false, "values": [-0.15, 0, 0.15]}},
            "text": {"value": "(b) MRD 4.0 V"}
          }
        }
      ],
      "resolve": {"axis": {"x": "independent", "y": "independent"}}
    },
    {
      "width": 467, "height": 101,
      "layer": [
        {
          "data": {"name": "nc"},
          "mark": {"type": "line", "interpolate": "basis-closed", "clip": true, "color": "#000", "strokeWidth": 1.5},
          "encoding": {
            "x": {"field": "x", "type": "quantitative", "scale": {"domain": [-3, 3], "nice": false}, "axis": {"orient": "bottom", "title": "Relative Displacement: Base- Ground (cm)", "titlePadding": 8, "values": [-3, -2, -1, 0, 1, 2, 3], "labelExpr": "datum.value < 0 ? '- ' + (-datum.value) : '' + datum.value"}},
            "y": {"field": "y", "type": "quantitative", "scale": {"domain": [-0.3, 0.3], "nice": false}, "axis": {"orient": "left", "title": null, "values": [-0.3, -0.15, 0, 0.15, 0.3], "labelExpr": "datum.value < 0 ? '- ' + (-datum.value) : '' + datum.value"}},
            "detail": {"field": "l"},
            "order": {"field": "i", "type": "quantitative"},
            "strokeDash": {"field": "t", "type": "nominal", "scale": {"domain": ["Analytical", "Experimental"], "range": [[1, 0], [1.3, 2.2]]}, "legend": null}
          }
        },
        {
          "data": {"values": [{}]},
          "mark": {"type": "text", "align": "left", "baseline": "alphabetic", "fontSize": 14.5, "color": "#000"},
          "encoding": {
            "x": {"datum": 1.0, "type": "quantitative", "axis": {"orient": "top", "title": null, "labels": false, "values": [-2, -1, 0, 1, 2]}},
            "y": {"datum": -0.275, "type": "quantitative", "axis": {"orient": "right", "title": null, "labels": false, "values": [-0.15, 0, 0.15]}},
            "text": {"value": "(c) MRD Control"}
          }
        }
      ],
      "resolve": {"axis": {"x": "independent", "y": "independent"}}
    }
  ]
}
